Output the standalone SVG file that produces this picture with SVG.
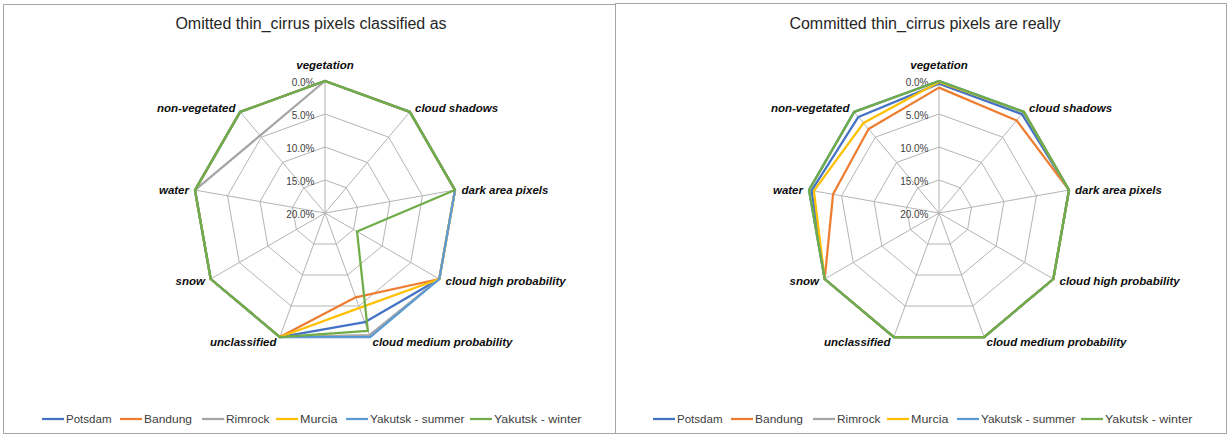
<svg xmlns="http://www.w3.org/2000/svg" xmlns:xlink="http://www.w3.org/1999/xlink" width="1229" height="436" viewBox="0 0 1229 436">
<style>
.frame{fill:#ffffff;stroke:#a6a6a6;stroke-width:1}
.title{font-family:"Liberation Sans",Arial,sans-serif;font-size:16px;fill:#262626;text-anchor:middle}
.grid{fill:none;stroke:#b4b4b4;stroke-width:1}
.tick{font-family:"Liberation Sans",Arial,sans-serif;font-size:10px;fill:#404040;text-anchor:end}
.axl{font-family:"Liberation Sans",Arial,sans-serif;font-size:11.5px;font-weight:bold;font-style:italic;fill:#0d0d0d}
.s{fill:none;stroke-width:2.25;stroke-linejoin:round}
.potsdam{stroke:#4472c4}
.bandung{stroke:#ed7d31}
.rimrock{stroke:#a5a5a5}
.murcia{stroke:#ffc000}
.summer{stroke:#5b9bd5}
.winter{stroke:#70ad47}
.leg{font-family:"Liberation Sans",Arial,sans-serif;font-size:11.5px;fill:#404040}
.legl{stroke-width:2.25}
</style>
<defs>
<g id="radargrid">
<polygon class="grid" points="0,-132 84.85,-101.11 130,-22.92 114.32,66 45.14,124.04 -45.14,124.04 -114.32,66 -130,-22.92 -84.85,-101.11"/>
<polygon class="grid" points="0,-99 63.64,-75.83 97.5,-17.19 85.74,49.5 33.86,93.03 -33.86,93.03 -85.74,49.5 -97.5,-17.19 -63.64,-75.83"/>
<polygon class="grid" points="0,-66 42.42,-50.56 65,-11.46 57.16,33 22.57,62.02 -22.57,62.02 -57.16,33 -65,-11.46 -42.42,-50.56"/>
<polygon class="grid" points="0,-33 21.21,-25.28 32.5,-5.73 28.58,16.5 11.29,31.01 -11.29,31.01 -28.58,16.5 -32.5,-5.73 -21.21,-25.28"/>
<path class="grid" d="M0,0L0,-132M0,0L84.85,-101.11M0,0L130,-22.92M0,0L114.32,66M0,0L45.14,124.04M0,0L-45.14,124.04M0,0L-114.32,66M0,0L-130,-22.92M0,0L-84.85,-101.11"/>
</g>
</defs>

<g id="chart-omitted">
<rect class="frame" x="3.5" y="4.5" width="612" height="429"/>
<text class="title" x="311" y="28.5">Omitted thin_cirrus pixels classified as</text>
<g id="omitted-plot" transform="translate(325,213)">
<use xlink:href="#radargrid" href="#radargrid"/>
<g id="omitted-ticks">
<text class="tick" x="-10.5" y="-127.5">0.0%</text>
<text class="tick" x="-10.5" y="-94.5">5.0%</text>
<text class="tick" x="-10.5" y="-61.5">10.0%</text>
<text class="tick" x="-10.5" y="-28.5">15.0%</text>
<text class="tick" x="-10.5" y="4.5">20.0%</text>
</g>
<g id="omitted-axis-labels">
<text class="axl" x="0" y="-144" text-anchor="middle">vegetation</text>
<text class="axl" x="90" y="-101">cloud shadows</text>
<text class="axl" x="136.5" y="-19.5">dark area pixels</text>
<text class="axl" x="120.5" y="72">cloud high probability</text>
<text class="axl" x="47.5" y="133">cloud medium probability</text>
<text class="axl" x="-48.5" y="133" text-anchor="end">unclassified</text>
<text class="axl" x="-120" y="72" text-anchor="end">snow</text>
<text class="axl" x="-136" y="-19.5" text-anchor="end">water</text>
<text class="axl" x="-89.5" y="-101" text-anchor="end">non-vegetated</text>
</g>
<g id="omitted-series">
<polygon class="s potsdam" points="0,-132 84.85,-101.11 130,-22.92 114.32,66 39.73,109.17 -45.14,124.04 -114.32,66 -130,-22.92 -84.85,-101.11"/>
<polygon class="s bandung" points="0,-132 84.85,-101.11 130,-22.92 114.32,66 30.7,84.35 -45.14,124.04 -114.32,66 -130,-22.92 -84.85,-101.11"/>
<polygon class="s rimrock" points="0,-132 84.85,-101.11 130,-22.92 114.32,66 44.46,122.16 -45.14,124.04 -114.32,66 -130,-22.92 -64.99,-77.44"/>
<polygon class="s murcia" points="0,-132 84.85,-101.11 130,-22.92 114.32,66 34.54,94.91 -45.14,124.04 -114.32,66 -130,-22.92 -84.85,-101.11"/>
<polygon class="s summer" points="0,-132 84.85,-101.11 130,-22.92 114.32,66 45.14,124.04 -45.14,124.04 -114.32,66 -130,-22.92 -84.85,-101.11"/>
<polygon class="s winter" points="0,-132 84.85,-101.11 130,-22.92 32.01,18.48 42.89,117.84 -45.14,124.04 -114.32,66 -130,-22.92 -84.85,-101.11"/>
</g>
</g>
<g id="omitted-legend">
<line class="legl potsdam" x1="42" y1="419" x2="64" y2="419"/>
<text class="leg" x="66" y="423" textLength="45.5" lengthAdjust="spacingAndGlyphs">Potsdam</text>
<line class="legl bandung" x1="120" y1="419" x2="142" y2="419"/>
<text class="leg" x="144" y="423" textLength="48" lengthAdjust="spacingAndGlyphs">Bandung</text>
<line class="legl rimrock" x1="202" y1="419" x2="224" y2="419"/>
<text class="leg" x="226" y="423" textLength="43.5" lengthAdjust="spacingAndGlyphs">Rimrock</text>
<line class="legl murcia" x1="276" y1="419" x2="298" y2="419"/>
<text class="leg" x="300" y="423" textLength="37.5" lengthAdjust="spacingAndGlyphs">Murcia</text>
<line class="legl summer" x1="346" y1="419" x2="368" y2="419"/>
<text class="leg" x="370" y="423" textLength="94.5" lengthAdjust="spacingAndGlyphs">Yakutsk - summer</text>
<line class="legl winter" x1="470" y1="419" x2="492" y2="419"/>
<text class="leg" x="494" y="423" textLength="87.5" lengthAdjust="spacingAndGlyphs">Yakutsk - winter</text>
</g>
</g>

<g id="chart-committed">
<rect class="frame" x="615.5" y="3.5" width="611" height="430"/>
<text class="title" x="925" y="28.5">Committed thin_cirrus pixels are really</text>
<g id="committed-plot" transform="translate(939,213)">
<use xlink:href="#radargrid" href="#radargrid"/>
<g id="committed-ticks">
<text class="tick" x="-10.5" y="-127.5">0.0%</text>
<text class="tick" x="-10.5" y="-94.5">5.0%</text>
<text class="tick" x="-10.5" y="-61.5">10.0%</text>
<text class="tick" x="-10.5" y="-28.5">15.0%</text>
<text class="tick" x="-10.5" y="4.5">20.0%</text>
</g>
<g id="committed-axis-labels">
<text class="axl" x="0" y="-144" text-anchor="middle">vegetation</text>
<text class="axl" x="90" y="-101">cloud shadows</text>
<text class="axl" x="136" y="-19.5">dark area pixels</text>
<text class="axl" x="120.5" y="72">cloud high probability</text>
<text class="axl" x="47.5" y="133">cloud medium probability</text>
<text class="axl" x="-48.5" y="133" text-anchor="end">unclassified</text>
<text class="axl" x="-120" y="72" text-anchor="end">snow</text>
<text class="axl" x="-136" y="-19.5" text-anchor="end">water</text>
<text class="axl" x="-89.5" y="-101" text-anchor="end">non-vegetated</text>
</g>
<g id="committed-series">
<polygon class="s potsdam" points="0,-129.36 82.94,-98.84 130,-22.92 114.32,66 45.14,124.04 -45.14,124.04 -114.32,66 -127.39,-22.46 -80.61,-96.06"/>
<polygon class="s bandung" points="0,-125.4 77.64,-92.52 130,-22.92 114.32,66 45.14,124.04 -45.14,124.04 -114.32,66 -105.94,-18.68 -70.43,-83.92"/>
<polygon class="s rimrock" points="0,-132 84.85,-101.11 130,-22.92 114.32,66 45.14,124.04 -45.14,124.04 -114.32,66 -130,-22.92 -84.85,-101.11"/>
<polygon class="s murcia" points="0,-131.01 84.85,-101.11 130,-22.92 114.32,66 45.14,124.04 -45.14,124.04 -114.32,66 -125.12,-22.06 -75.52,-89.99"/>
<polygon class="s summer" points="0,-132 84.85,-101.11 130,-22.92 114.32,66 45.14,124.04 -45.14,124.04 -114.32,66 -130,-22.92 -84.85,-101.11"/>
<polygon class="s winter" points="0,-132 84.85,-101.11 130,-22.92 114.32,66 45.14,124.04 -45.14,124.04 -114.32,66 -130,-22.92 -84.85,-101.11"/>
</g>
</g>
<g id="committed-legend">
<line class="legl potsdam" x1="653" y1="419" x2="675" y2="419"/>
<text class="leg" x="677" y="423" textLength="45.5" lengthAdjust="spacingAndGlyphs">Potsdam</text>
<line class="legl bandung" x1="731" y1="419" x2="753" y2="419"/>
<text class="leg" x="755" y="423" textLength="48" lengthAdjust="spacingAndGlyphs">Bandung</text>
<line class="legl rimrock" x1="813" y1="419" x2="835" y2="419"/>
<text class="leg" x="837" y="423" textLength="43.5" lengthAdjust="spacingAndGlyphs">Rimrock</text>
<line class="legl murcia" x1="887" y1="419" x2="909" y2="419"/>
<text class="leg" x="911" y="423" textLength="37.5" lengthAdjust="spacingAndGlyphs">Murcia</text>
<line class="legl summer" x1="957" y1="419" x2="979" y2="419"/>
<text class="leg" x="981" y="423" textLength="94.5" lengthAdjust="spacingAndGlyphs">Yakutsk - summer</text>
<line class="legl winter" x1="1081" y1="419" x2="1103" y2="419"/>
<text class="leg" x="1105" y="423" textLength="87.5" lengthAdjust="spacingAndGlyphs">Yakutsk - winter</text>
</g>
</g>
</svg>
